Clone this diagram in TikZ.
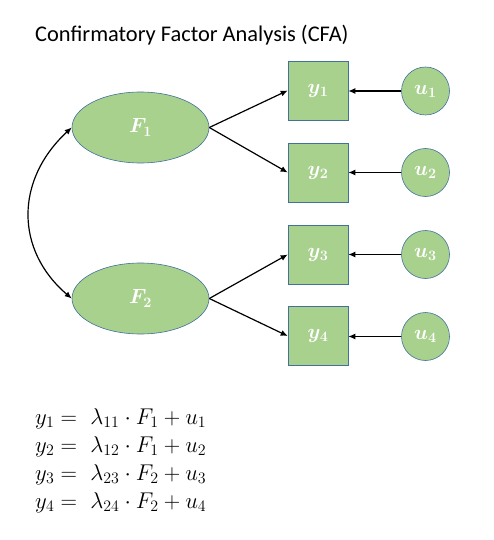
\RequirePackage{fix-cm}
\documentclass[tikz,border=0pt]{standalone}
\usepackage{amsmath}
\usepackage{fontspec}
\newfontfamily\titlefont{Carlito}
\usetikzlibrary{shapes.geometric,arrows.meta}
\definecolor{cfagreen}{HTML}{A9D18E}
\definecolor{cfablue}{HTML}{41719C}
\tikzset{
  px/.style={x=1pt,y=-1pt},
  nodefont/.style={text=white,font=\fontsize{20.5}{24}\selectfont\boldmath},
  latent/.style={ellipse,draw=cfablue,fill=cfagreen,line width=0.6pt,minimum width=137pt,minimum height=71pt,inner sep=0pt,nodefont},
  observed/.style={rectangle,draw=cfablue,fill=cfagreen,line width=0.6pt,minimum width=60pt,minimum height=59pt,inner sep=0pt,nodefont},
  errnode/.style={circle,draw=cfablue,fill=cfagreen,line width=0.6pt,minimum size=48pt,inner sep=0pt,nodefont},
  link/.style={line width=1.2pt,-{Latex[length=7pt,width=6pt]}},
  eqline/.style={anchor=base west,inner sep=0pt,font=\fontsize{22.8}{27}\selectfont},
}
\begin{document}
\begin{tikzpicture}[px]
\useasboundingbox (0,0) rectangle (494,540);
\node[anchor=west,inner sep=0pt,font=\titlefont\fontsize{22.4}{26}\selectfont] (title) at (35,35) {Confirmatory Factor Analysis (CFA)};
\node[latent] (F1) at (140.5,127.5) {$F_1$};
\node[latent] (F2) at (140.5,298.5) {$F_2$};
\node[observed] (y1) at (318,90.5) {$y_1$};
\node[observed] (y2) at (318,172.5) {$y_2$};
\node[observed] (y3) at (318,254.5) {$y_3$};
\node[observed] (y4) at (318,336) {$y_4$};
\node[errnode] (u1) at (425.5,91) {$u_1$};
\node[errnode] (u2) at (425.5,172.5) {$u_2$};
\node[errnode] (u3) at (425.5,254.5) {$u_3$};
\node[errnode] (u4) at (425.5,336.5) {$u_4$};
\draw[link] (F1.east) -- (y1.west);
\draw[link] (F1.east) -- (y2.west);
\draw[link] (F2.east) -- (y3.west);
\draw[link] (F2.east) -- (y4.west);
\draw[link] (u1.west) -- (u1.west -| y1.east);
\draw[link] (u2.west) -- (u2.west -| y2.east);
\draw[link] (u3.west) -- (u3.west -| y3.east);
\draw[link] (u4.west) -- (u4.west -| y4.east);
\draw[line width=1.2pt,{Latex[length=7pt,width=6pt]}-{Latex[length=7pt,width=6pt]}] (F1.west) .. controls (15,180) and (15,250) .. (F2.west);
\node[eqline] (e1) at (35,424) {$y_1 = \ \lambda_{11}\cdot F_1 + u_1$};
\node[eqline] (e2) at (35,452) {$y_2 = \ \lambda_{12}\cdot F_1 + u_2$};
\node[eqline] (e3) at (35,480) {$y_3 = \ \lambda_{23}\cdot F_2 + u_3$};
\node[eqline] (e4) at (35,508) {$y_4 = \ \lambda_{24}\cdot F_2 + u_4$};
\end{tikzpicture}
\end{document}
